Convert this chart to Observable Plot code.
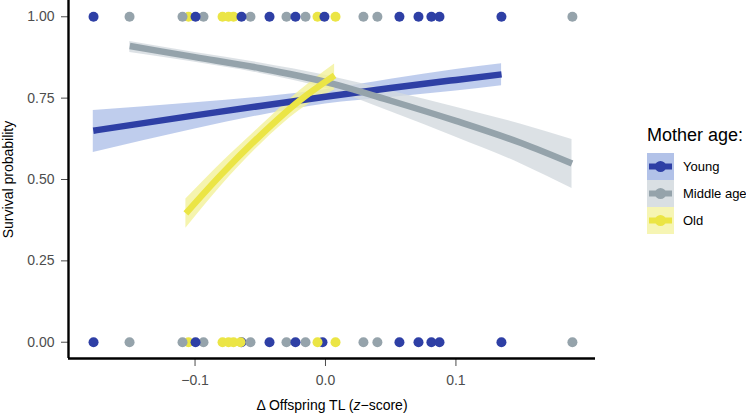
<!DOCTYPE html>
<html><head><meta charset="utf-8">
<script src="https://cdn.jsdelivr.net/npm/d3@7"></script>
<script src="https://cdn.jsdelivr.net/npm/@observablehq/plot@0.6"></script>
<style>
body{margin:0;background:#fff;font-family:"Liberation Sans",Arial,Helvetica,sans-serif;}
#wrap{position:relative;width:746px;height:413px;overflow:hidden;}
#legend{position:absolute;left:647px;top:125px;color:#000;}
#legend .title{font-size:18px;line-height:20px;margin-bottom:8px;white-space:nowrap;}
#legend .row{display:flex;align-items:center;height:27px;}
#legend .row span{font-size:13px;margin-left:9px;white-space:nowrap;}
</style></head><body><div id="wrap"></div>
<script>
// ---- data ----
const groups = ["Young", "Middle age", "Old"];
const lineColors = ["#2E3FA5", "#95A3AB", "#EBE545"];
const ribbonColors = ["#AFC0E8", "#D3DADF", "#F3F19A"];
const keyColors = ["#B2C2E8", "#D9DFE3", "#F6F5B4"];
const xTicks = [-0.1, 0, 0.1];
const yTicks = [0, 0.25, 0.5, 0.75, 1];
const xDomain = [-0.197, 0.207];
const yDomain = [-0.05, 1.05];
const xLabel = "Δ Offspring TL (z−score)";
const yLabel = "Survival probability";
const legendTitle = "Mother age:";

// fitted curves
const youngX   = [-0.178, -0.1, -0.05, 0, 0.05, 0.1, 0.135];
const youngFit = [0.650, 0.697, 0.726, 0.754, 0.781, 0.806, 0.823];
const youngLo  = [0.583, 0.655, 0.697, 0.732, 0.752, 0.772, 0.788];
const youngHi  = [0.712, 0.736, 0.753, 0.776, 0.808, 0.838, 0.856];

const middleX   = [-0.150, -0.1, -0.05, 0, 0.05, 0.1, 0.15, 0.189];
const middleFit = [0.910, 0.876, 0.842, 0.800, 0.742, 0.680, 0.612, 0.549];
const middleLo  = [0.890, 0.860, 0.826, 0.780, 0.708, 0.630, 0.548, 0.472];
const middleHi  = [0.924, 0.890, 0.858, 0.820, 0.772, 0.722, 0.670, 0.623];

const oldX   = [-0.107, -0.08, -0.05, -0.02, 0.007];
const oldFit = [0.396, 0.515, 0.635, 0.742, 0.820];
const oldLo  = [0.350, 0.480, 0.607, 0.712, 0.775];
const oldHi  = [0.440, 0.550, 0.663, 0.772, 0.855];

// observed points (draw order back to front)
const topX = [-0.1778, -0.1502, -0.1050, -0.1096, -0.0935, -0.0996, -0.0789, -0.0743, -0.0705, -0.0575, -0.0644, -0.0429, -0.0299, -0.0153, -0.0230, -0.0061, 0.0077, -0.0008, 0.0291, 0.0398, 0.0567, 0.0713, 0.0812, 0.0874, 0.1349, 0.1893];
const topG = ["Young", "Middle age", "Old", "Middle age", "Middle age", "Young", "Old", "Old", "Old", "Middle age", "Young", "Young", "Middle age", "Middle age", "Young", "Old", "Old", "Young", "Middle age", "Middle age", "Young", "Young", "Young", "Young", "Young", "Middle age"];
const botX = [-0.1778, -0.1502, -0.1050, -0.1096, -0.0935, -0.0996, -0.0789, -0.0743, -0.0705, -0.0644, -0.0651, -0.0575, -0.0429, -0.0299, -0.0153, -0.0230, -0.0023, -0.0061, 0.0077, 0.0291, 0.0398, 0.0567, 0.0713, 0.0812, 0.0874, 0.1349, 0.1893];
const botG = ["Young", "Middle age", "Old", "Middle age", "Middle age", "Young", "Old", "Old", "Old", "Young", "Old", "Middle age", "Young", "Middle age", "Middle age", "Young", "Young", "Old", "Old", "Middle age", "Middle age", "Young", "Young", "Young", "Young", "Young", "Middle age"];

// ---- build tables ----
function curve(g, xs, fit, lo, hi) { return xs.map((x, i) => ({g, x, fit: fit[i], lo: lo[i], hi: hi[i]})); }
const curves = [
  curve("Young", youngX, youngFit, youngLo, youngHi),
  curve("Middle age", middleX, middleFit, middleLo, middleHi),
  curve("Old", oldX, oldFit, oldLo, oldHi)
];
const pts = [
  ...botX.map((x, i) => ({x, y: 0, g: botG[i]})),
  ...topX.map((x, i) => ({x, y: 1, g: topG[i]}))
];

const ribbonMarks = curves.map((c, k) => Plot.areaY(c, {x: "x", y1: "lo", y2: "hi", fill: ribbonColors[k], fillOpacity: 0.8, curve: "monotone-x"}));
const lineMarks = curves.map((c, k) => Plot.line(c, {x: "x", y: "fit", stroke: lineColors[k], strokeWidth: 6.5, strokeLinecap: "butt", curve: "monotone-x"}));

const chart = Plot.plot({
  width: 746, height: 413,
  marginLeft: 68, marginRight: 151, marginTop: 0, marginBottom: 55,
  style: {fontFamily: '"Liberation Sans", Arial, sans-serif', fontSize: "14px", color: "#4D4D4D", background: "white"},
  x: {domain: xDomain, ticks: xTicks, tickFormat: d3.format(".1f"), tickSize: 8, tickPadding: 9, label: null},
  y: {domain: yDomain, ticks: yTicks, tickFormat: d3.format(".2f"), tickSize: 7, tickPadding: 7, label: null},
  color: {domain: groups, range: lineColors},
  marks: [
    ...ribbonMarks,
    ...lineMarks,
    Plot.dot(pts, {x: "x", y: "y", fill: "g", r: 5, stroke: "none"}),
    Plot.ruleX([xDomain[0]], {stroke: "black", strokeWidth: 2.4}),
    Plot.ruleY([yDomain[0]], {stroke: "black", strokeWidth: 2.4}),
    Plot.text([yLabel], {frameAnchor: "left", textAnchor: "middle", lineAnchor: "middle", rotate: -90, dx: -60, fill: "black", fontSize: 14}),
    Plot.text([xLabel], {frameAnchor: "bottom", textAnchor: "middle", lineAnchor: "middle", dy: 47, fill: "black", fontSize: 14})
  ]
});
document.getElementById("wrap").appendChild(chart);

// italic z in x label
d3.select(chart).selectAll("text").filter(function() { return this.textContent === xLabel; }).each(function() {
  const t = d3.select(this);
  t.text(null);
  t.append("tspan").text("Δ Offspring TL (");
  t.append("tspan").attr("font-style", "italic").text("z");
  t.append("tspan").text("−score)");
});

// legend
const leg = d3.select("#wrap").append("div").attr("id", "legend");
leg.append("div").attr("class", "title").text(legendTitle);
groups.forEach((g, k) => {
  const row = leg.append("div").attr("class", "row");
  const s = row.append("svg").attr("width", 27).attr("height", 27);
  s.append("rect").attr("width", 27).attr("height", 27).attr("fill", keyColors[k]);
  s.append("line").attr("x1", 2).attr("x2", 25).attr("y1", 13.5).attr("y2", 13.5).attr("stroke", lineColors[k]).attr("stroke-width", 6);
  s.append("circle").attr("cx", 13.5).attr("cy", 13.5).attr("r", 5.5).attr("fill", lineColors[k]);
  row.append("span").text(g);
});
</script>
</body></html>
